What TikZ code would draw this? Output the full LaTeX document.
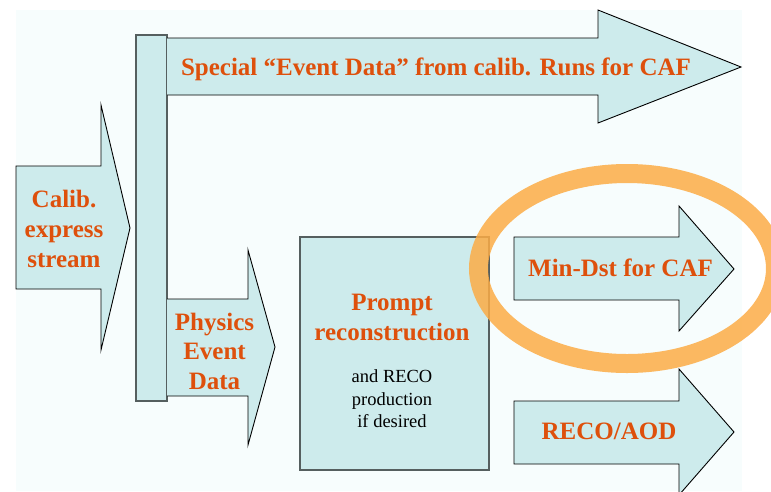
\documentclass[tikz,border=0pt]{standalone}
\usepackage{fontspec}
\setmainfont{Liberation Serif}
\definecolor{panel}{RGB}{247,253,253}
\definecolor{flowfill}{RGB}{205,235,236}
\definecolor{edgegrey}{RGB}{85,95,95}
\definecolor{labelorange}{RGB}{222,80,12}
\definecolor{ringorange}{RGB}{252,172,70}
\tikzset{
  flowarrow/.style={fill=flowfill, draw=black, line width=0.9pt, line join=miter},
  flowbox/.style={fill=flowfill, draw=edgegrey, line width=1.3pt},
  biglabel/.style={font=\fontsize{25}{30}\selectfont\bfseries, text=labelorange, inner sep=0pt, anchor=base},
  smalllabel/.style={font=\fontsize{18.5}{22.5}\selectfont, text=black, inner sep=0pt, anchor=base},
  ring/.style={draw=ringorange, draw opacity=0.85, line width=19pt}
}
\begin{document}
\begin{tikzpicture}[x=1pt,y=-1pt]
\useasboundingbox (0,0) rectangle (771,491);
\clip (0,0) rectangle (771,491);
% slide panel
\fill[panel] (16,10) rectangle (742,491);

% vertical distribution bar
\draw[flowbox] (136,35) rectangle (167,401);

% calibration express stream arrow
\draw[flowarrow] (16,166) -- (101,166) -- (101,105) -- (130,228) -- (101,350) -- (101,289) -- (16,289) -- cycle;

% special event data arrow
\draw[flowarrow] (167,38) -- (598,38) -- (598,10) -- (741,67) -- (598,123) -- (598,95) -- (167,95);

% physics event data arrow
\draw[flowarrow] (167,299) -- (248,299) -- (248,250) -- (275,347) -- (248,445) -- (248,396) -- (167,396);

% prompt reconstruction box
\draw[flowbox] (300,237) rectangle (489,470);

% output arrows
\draw[flowarrow] (514,237) -- (679,237) -- (679,206) -- (734,269) -- (679,331) -- (679,300) -- (514,300) -- cycle;
\draw[flowarrow] (514,401) -- (679,401) -- (679,369) -- (734,432) -- (679,495) -- (679,464) -- (514,464) -- cycle;

% highlight ring
\draw[ring] (627,268.5) ellipse [x radius=148.5, y radius=95];

% labels
\node[biglabel] (spec) at (436,75) {Special “Event Data” from calib. Runs for CAF};

\node[biglabel] (cal1) at (64,207) {Calib.};
\node[biglabel] (cal2) at (64,237) {express};
\node[biglabel] (cal3) at (64,267) {stream};

\node[biglabel] (phy1) at (214.5,330) {Physics};
\node[biglabel] (phy2) at (214.5,359.5) {Event};
\node[biglabel] (phy3) at (214.5,389) {Data};

\node[biglabel] (pr1) at (392,310) {Prompt};
\node[biglabel] (pr2) at (392,340) {reconstruction};
\node[smalllabel] (pr3) at (392,382) {and RECO};
\node[smalllabel] (pr4) at (392,405) {production};
\node[smalllabel] (pr5) at (392,427.5) {if desired};

\node[biglabel] (mindst) at (620.5,276) {Min-Dst for CAF};
\node[biglabel] (recoaod) at (609,439) {RECO/AOD};
\end{tikzpicture}
\end{document}
